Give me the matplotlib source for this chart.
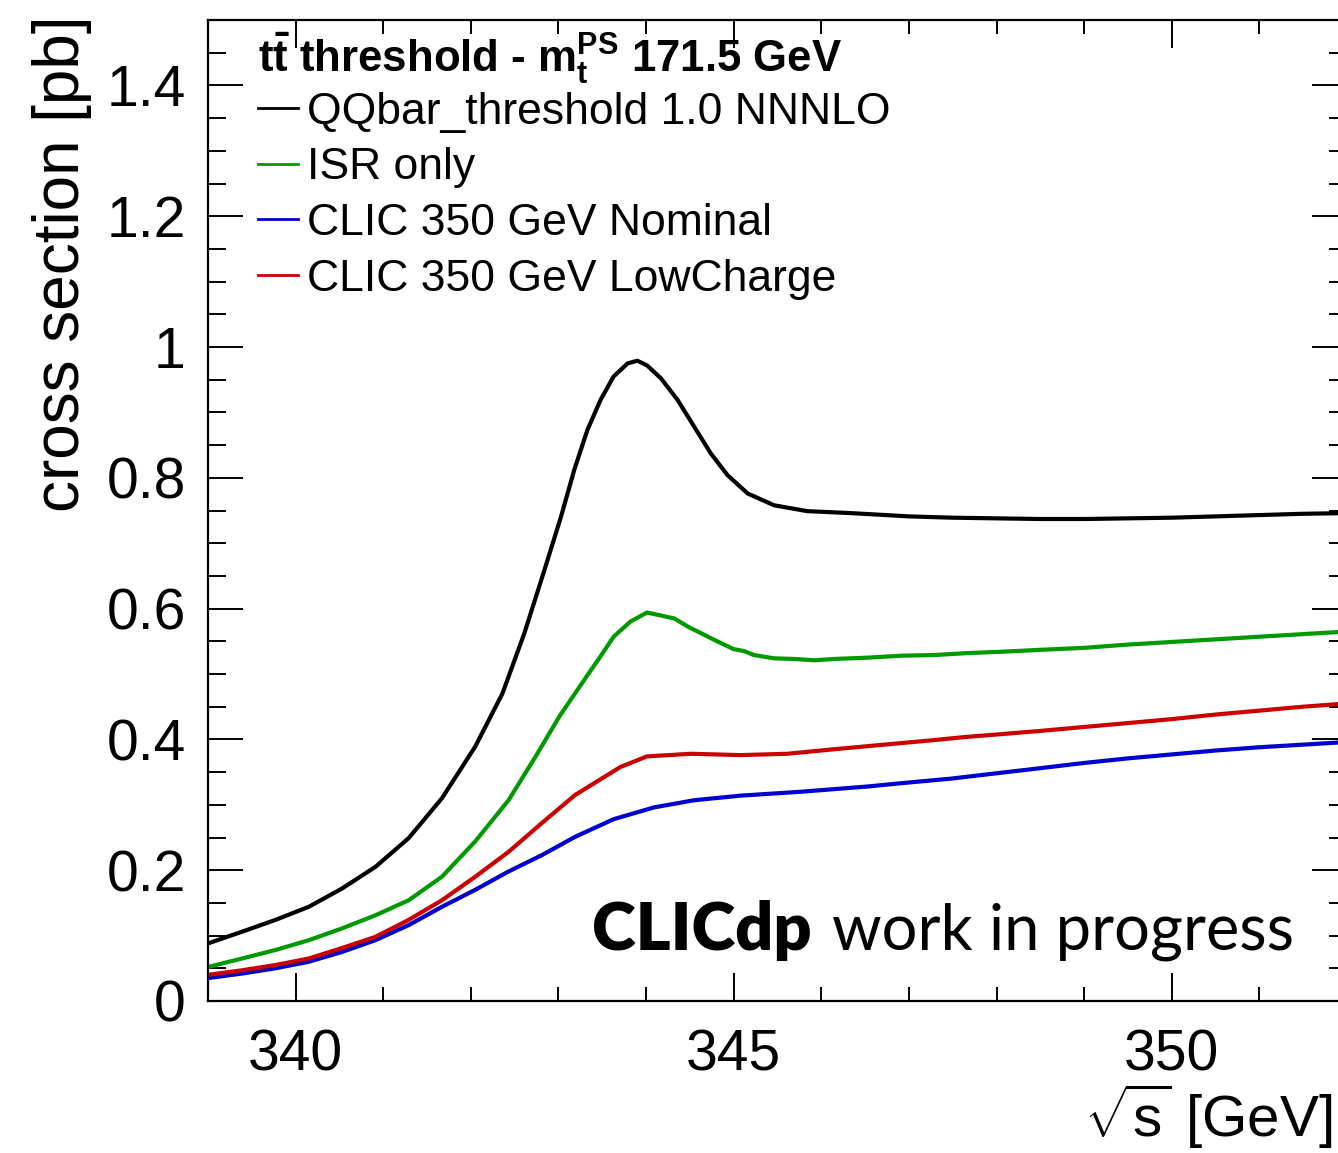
#!/usr/bin/env python
import matplotlib
matplotlib.use('Agg')
import matplotlib.pyplot as plt
from matplotlib.ticker import MultipleLocator, FormatStrFormatter

# values
x_nnnlo = [339.0, 339.39, 339.77, 340.15, 340.53, 340.91, 341.29, 341.67, 342.05, 342.36,
           342.61, 342.84, 343.03, 343.18, 343.33, 343.48, 343.63, 343.79, 343.90, 344.01,
           344.17, 344.36, 344.55, 344.74, 344.93, 345.16, 345.46, 345.84, 346.34, 347.0,
           347.5, 348.0, 348.5, 349.0, 349.5, 350.0, 350.5, 351.0, 351.5, 352.0]
y_nnnlo = [0.088, 0.106, 0.124, 0.144, 0.172, 0.205, 0.249, 0.310, 0.389, 0.470,
           0.562, 0.659, 0.741, 0.812, 0.873, 0.919, 0.955, 0.975, 0.979, 0.972,
           0.952, 0.919, 0.878, 0.837, 0.804, 0.776, 0.758, 0.749, 0.746, 0.741,
           0.739, 0.738, 0.737, 0.737, 0.738, 0.739, 0.741, 0.743, 0.745, 0.746]

x_isr = [339.0, 339.39, 339.77, 340.15, 340.53, 340.91, 341.29, 341.67, 342.05, 342.43,
         342.74, 343.01, 343.32, 343.48, 343.63, 343.82, 344.01, 344.15, 344.32, 344.51,
         344.62, 344.78, 345.00, 345.12, 345.23, 345.46, 345.69, 345.92, 346.15, 346.53,
         346.91, 347.29, 347.67, 348.05, 348.5, 349.0, 349.5, 350.0, 350.5, 351.0, 351.5, 352.0]
y_isr = [0.052, 0.065, 0.078, 0.093, 0.111, 0.131, 0.154, 0.190, 0.244, 0.307,
         0.374, 0.435, 0.496, 0.527, 0.557, 0.580, 0.594, 0.590, 0.585, 0.570,
         0.563, 0.552, 0.538, 0.535, 0.529, 0.524, 0.523, 0.521, 0.523, 0.525,
         0.528, 0.529, 0.532, 0.534, 0.537, 0.540, 0.545, 0.549, 0.553, 0.557, 0.561, 0.565]

x_nominal = [339.0, 339.39, 339.77, 340.15, 340.53, 340.91, 341.29, 341.67, 342.05, 342.43,
             342.81, 343.19, 343.63, 344.09, 344.55, 345.08, 345.77, 346.53, 346.91, 347.48,
             348.05, 348.5, 349.0, 349.5, 350.0, 350.5, 351.0, 351.5, 352.0]
y_nominal = [0.035, 0.042, 0.050, 0.060, 0.075, 0.093, 0.116, 0.144, 0.170, 0.198,
             0.223, 0.251, 0.278, 0.296, 0.307, 0.314, 0.320, 0.328, 0.333, 0.340,
             0.349, 0.356, 0.364, 0.371, 0.377, 0.383, 0.388, 0.392, 0.396]

x_lowcharge = [339.0, 339.39, 339.77, 340.15, 340.53, 340.91, 341.29, 341.67, 342.05, 342.43,
               342.81, 343.19, 343.48, 343.71, 344.01, 344.51, 345.08, 345.61, 346.15, 346.72,
               347.29, 347.67, 348.05, 348.5, 349.0, 349.5, 350.0, 350.5, 351.0, 351.5, 352.0]
y_lowcharge = [0.040, 0.047, 0.055, 0.065, 0.081, 0.098, 0.124, 0.154, 0.190, 0.228,
               0.272, 0.315, 0.339, 0.358, 0.374, 0.378, 0.376, 0.378, 0.385, 0.392,
               0.399, 0.404, 0.408, 0.413, 0.419, 0.425, 0.431, 0.438, 0.444, 0.450, 0.455]

labels = ['QQbar_threshold 1.0 NNNLO', 'ISR only', 'CLIC 350 GeV Nominal', 'CLIC 350 GeV LowCharge']

plt.rcParams['font.family'] = 'Liberation Sans'
plt.rcParams['mathtext.fontset'] = 'custom'
plt.rcParams['mathtext.rm'] = 'Liberation Sans'
plt.rcParams['mathtext.it'] = 'Liberation Sans:italic'
plt.rcParams['mathtext.bf'] = 'Liberation Sans:bold'

fig = plt.figure(figsize=(13.38, 11.53), dpi=100)
ax = fig.add_axes([208 / 1338, 1 - 1001 / 1153, 1139 / 1338, 981 / 1153])

lw = 3.0
ax.plot(x_nnnlo, y_nnnlo, color='black', lw=lw, label=labels[0], solid_joinstyle='round')
ax.plot(x_isr, y_isr, color='#009a00', lw=lw, label=labels[1], solid_joinstyle='round')
ax.plot(x_nominal, y_nominal, color='#0000d0', lw=lw, label=labels[2], solid_joinstyle='round')
ax.plot(x_lowcharge, y_lowcharge, color='#cc0000', lw=lw, label=labels[3], solid_joinstyle='round')

ax.set_xlim(339, 352)
ax.set_ylim(0, 1.5)
ax.xaxis.set_major_locator(MultipleLocator(5))
ax.xaxis.set_minor_locator(MultipleLocator(1))
ax.yaxis.set_major_locator(MultipleLocator(0.2))
ax.yaxis.set_minor_locator(MultipleLocator(0.05))
ax.yaxis.set_major_formatter(FormatStrFormatter('%g'))

ax.tick_params(which='both', direction='in', top=True, right=True, width=1.4, labelsize=41)
ax.tick_params(axis='x', which='major', length=20, pad=20)
ax.tick_params(axis='x', which='minor', length=10)
ax.tick_params(axis='y', which='major', length=25, pad=16)
ax.tick_params(axis='y', which='minor', length=13)
for s in ax.spines.values():
    s.set_linewidth(1.6)

ax.text(0.044, 0.947, r"$\mathbf{t\bar{t}}$ threshold - $\mathbf{m_{t}^{PS}}$ 171.5 GeV",
        fontsize=31.5, fontweight='bold', transform=ax.transAxes, va='baseline')

leg = ax.legend(loc='upper left', bbox_to_anchor=(0.044, 0.927), frameon=False, fontsize=32,
                handlelength=0.9, handletextpad=0.2, labelspacing=0.33, borderpad=0, borderaxespad=0)
for l in leg.get_lines():
    l.set_linewidth(2.0)

ax.text(0.530, 0.052, "CLICdp", fontfamily='Lato', fontweight='heavy', fontsize=48,
        transform=ax.transAxes, ha='right', va='baseline')
ax.text(0.548, 0.052, "work in progress", fontfamily='Lato', fontweight='normal', fontsize=45.5,
        transform=ax.transAxes, ha='left', va='baseline')

fig.text(62 / 1338, 1 - 15 / 1153, "cross section [pb]", rotation=90, ha='center', va='top', fontsize=46)
fig.text(0.996, 1 - 1137 / 1153, r"$\sqrt{\mathrm{s}}$ [GeV]", ha='right', va='baseline', fontsize=42)

plt.savefig('out.png', dpi=100)
